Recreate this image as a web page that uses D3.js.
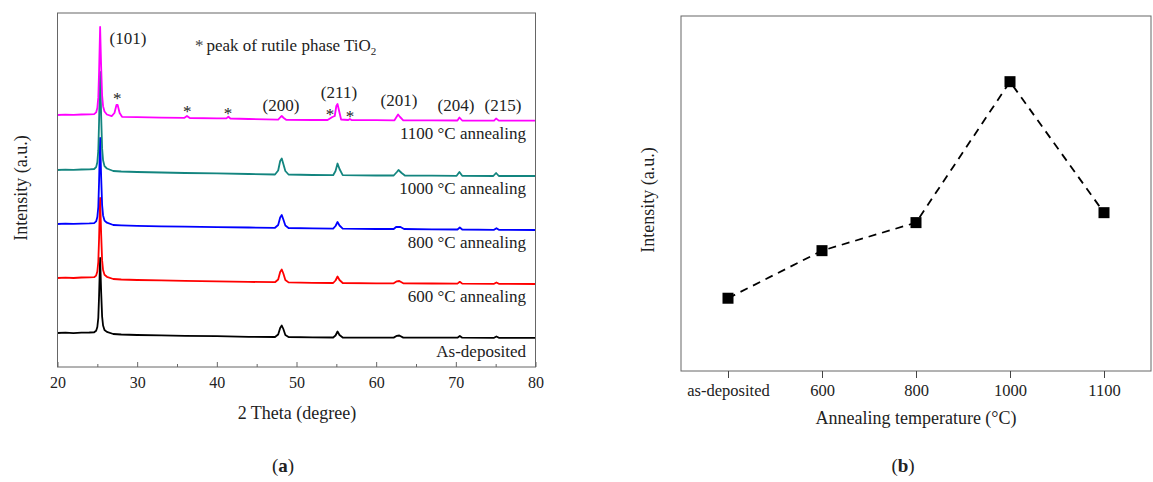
<!DOCTYPE html>
<html>
<head>
<meta charset="utf-8">
<script src="https://cdn.jsdelivr.net/npm/d3@7"></script>
<style>
  body { margin: 0; background: #fff; }
  text { font-family: "Liberation Serif", "Times New Roman", serif; fill: #222; }
</style>
</head>
<body>
<svg width="1153" height="482"></svg>
<script>
// ---- panel (a): XRD patterns, intensity read relative to each trace's left baseline
var sampleNames = ['As-deposited', '600 °C annealing', '800 °C annealing', '1000 °C annealing', '1100 °C annealing'];
var sampleColors = ['#000000', '#ff0000', '#0000ff', '#13857f', '#ff00ff'];
var sampleOffsets = [34, 89, 143, 197, 252];

var asDeposited = [[20,0],[21,0.3],[22,-0.2],[23,0.4],[24,0.5],[24.6,0.75],[24.85,2.3],[25.0,6],[25.12,15],[25.22,37.5],[25.35,75],[25.48,41],[25.6,16.5],[25.72,7.5],[25.9,3],[26.2,1.1],[27,-1],[28,-1.5],[30,-2],[33,-2.4],[36,-2.8],[40,-3.2],[44,-3.8],[47.3,-4],[47.7,-1.5],[47.95,5],[48.15,7.5],[48.35,4],[48.6,-2],[49,-4],[52,-4.3],[54.6,-4.5],[54.9,-2.5],[55.15,1.5],[55.4,-2],[55.8,-4.5],[60,-4.6],[62.2,-4.6],[62.6,-2.8],[62.9,-2.5],[63.4,-4.6],[67,-4.7],[70.2,-4.7],[70.5,-3],[70.8,-4.7],[74.8,-4.8],[75.1,-3.5],[75.4,-4.8],[80,-4.8]];
var anneal600 = [[20,0],[21,0.4],[22,0],[23,0.5],[24,0.6],[24.6,0.8],[24.85,2.4],[25.0,6.4],[25.12,16],[25.22,40],[25.35,80],[25.48,44],[25.6,17.6],[25.72,8],[25.9,3.2],[26.2,1.2],[27,-1],[28,-1.5],[30,-2],[33,-2.4],[36,-2.8],[40,-3.3],[44,-3.9],[47.3,-4.2],[47.7,-1.5],[47.95,6],[48.15,8.5],[48.35,4.5],[48.6,-2],[49,-4.4],[52,-4.8],[54.6,-5],[54.9,-2.5],[55.15,1.5],[55.4,-2],[55.8,-5],[60,-5.3],[62.2,-5.3],[62.6,-3.3],[62.9,-3],[63.4,-5.3],[67,-5.5],[70.2,-5.6],[70.5,-3.8],[70.8,-5.6],[74.8,-5.8],[75.1,-4.5],[75.4,-5.8],[80,-6]];
var anneal800 = [[20,0],[21,0.3],[22,0.2],[23,0.4],[24,0.6],[24.6,0.9],[24.85,2.6],[25.0,6.9],[25.12,17],[25.22,43],[25.35,86],[25.48,47],[25.6,19],[25.72,8.6],[25.9,3.4],[26.2,1.3],[27,-1],[28,-1.4],[30,-1.9],[33,-2.3],[36,-2.7],[40,-3.1],[44,-3.5],[47.3,-3.8],[47.7,-1],[47.95,6.5],[48.15,9],[48.35,4.5],[48.6,-1.5],[49,-4],[52,-4.4],[54.6,-4.6],[54.9,-2],[55.15,2],[55.4,-1.5],[55.8,-4.6],[60,-5],[62.2,-5],[62.5,-3],[63.0,-2.8],[63.5,-5],[67,-5.3],[70.2,-5.5],[70.5,-3.5],[70.8,-5.5],[74.8,-5.8],[75.1,-4.2],[75.4,-5.8],[80,-6]];
var anneal1000 = [[20,0],[21,0.4],[22,0.1],[23,0.5],[24,0.6],[24.6,1],[24.85,2.9],[25.0,7.8],[25.12,19.6],[25.22,49],[25.35,98],[25.48,54],[25.6,21.6],[25.72,9.8],[25.9,3.9],[26.2,1.5],[27,-1],[28,-1.5],[30,-2],[33,-2.5],[36,-3],[40,-3.4],[44,-4],[47.3,-4.5],[47.7,-0.5],[47.95,9],[48.15,11.5],[48.35,6],[48.6,-1],[49,-4.5],[52,-5],[54.6,-5.2],[54.9,-1],[55.15,6.5],[55.4,1],[55.8,-5.2],[60,-5.5],[62.2,-5.5],[62.6,-2],[62.8,0],[63.2,-3],[63.6,-5.5],[67,-5.7],[70.1,-5.8],[70.45,-2],[70.8,-5.8],[74.7,-6],[75.05,-3],[75.4,-6],[80,-6]];
var anneal1100 = [[20,0],[21,0.3],[22,0.2],[23,0.5],[24,0.6],[24.6,0.9],[24.85,2.6],[25.0,7],[25.12,17.6],[25.22,44],[25.35,88],[25.48,48],[25.6,19.4],[25.72,8.8],[25.9,3.5],[26.2,0.5],[26.8,-1.2],[27.15,2],[27.4,10],[27.55,10],[27.8,2],[28.1,-1.8],[30,-2.2],[33,-2.6],[35.9,-2.9],[36.25,-1],[36.6,-3],[40,-3.3],[41.2,-3.4],[41.45,-1.8],[41.7,-3.5],[44,-4],[47.7,-4.6],[48.0,-2],[48.15,-1],[48.4,-3],[48.7,-4.8],[52,-5],[53.9,-5],[54.2,-3.5],[54.5,-2],[54.8,-1],[55.0,9],[55.15,11],[55.35,4],[55.6,-4.5],[56.5,-5],[56.7,-4],[56.9,-5],[60,-5.2],[62.3,-5.3],[62.55,-2],[62.75,0.5],[63.0,-2],[63.4,-5.3],[67,-5.4],[70.2,-5.5],[70.45,-2.5],[70.8,-5.5],[74.8,-5.6],[75.05,-3.5],[75.4,-5.6],[80,-5.6]];
var patterns = [asDeposited, anneal600, anneal800, anneal1000, anneal1100];

var xTicksA = [20, 30, 40, 50, 60, 70, 80];
var xMinorA = [25, 35, 45, 55, 65, 75];

var planeLabels = ['(101)', '(200)', '(211)', '(201)', '(204)', '(215)'];
var planeLabelAngles = [28.85, 48.05, 55.33, 62.86, 70.02, 75.92];
var planeLabelHeights = [323, 256, 269, 261, 256, 256];
var rutileAngles = [27.5, 36.3, 41.4, 54.2, 56.7];
var rutileStarHeights = [273, 260, 258, 257, 255];

// ---- panel (b): (101) peak intensity vs annealing temperature
var tempLabels = ['as-deposited', '600', '800', '1000', '1100'];
var peakIntensity = [20.5, 33.9, 41.8, 81.5, 44.6];

var svg = d3.select('svg');

// panel (a)
var xa = d3.scaleLinear().domain([20, 80]).range([57.5, 535.5]);
var ya = d3.scaleLinear().domain([0, 354]).range([367, 13]);

var ga = svg.append('g');

var lineA = d3.line()
  .x(function (d) { return xa(d[0]); })
  .y(function (d) { return ya(d[1] + d.off); });

patterns.forEach(function (pts, i) {
  var data = pts.map(function (p) { var q = [p[0], p[1]]; q.off = sampleOffsets[i]; return q; });
  ga.append('path')
    .attr('d', lineA(data))
    .attr('fill', 'none')
    .attr('stroke', sampleColors[i])
    .attr('stroke-width', 1.8)
    .attr('stroke-linejoin', 'round');
});

ga.append('rect')
  .attr('x', 57.5).attr('y', 13)
  .attr('width', 478).attr('height', 354)
  .attr('fill', 'none').attr('stroke', '#666').attr('stroke-width', 1);

var axA = ga.append('g')
  .attr('transform', 'translate(0,367)')
  .call(d3.axisBottom(xa).tickValues(xTicksA).tickSizeInner(-5).tickSizeOuter(0).tickPadding(10));
axA.select('.domain').remove();
axA.selectAll('.tick line').attr('stroke', '#666');
axA.selectAll('text').style('font-size', '16px').attr('fill', '#222');

ga.append('g')
  .attr('transform', 'translate(0,367)')
  .call(d3.axisBottom(xa).tickValues(xMinorA).tickSizeInner(-3).tickSizeOuter(0).tickFormat(''))
  .call(function (g) { g.select('.domain').remove(); g.selectAll('line').attr('stroke', '#666'); });

ga.append('text')
  .attr('x', 297).attr('y', 419)
  .attr('text-anchor', 'middle').style('font-size', '18px')
  .text('2 Theta (degree)');

ga.append('text')
  .attr('transform', 'translate(27,188) rotate(-90)')
  .attr('text-anchor', 'middle').style('font-size', '18px')
  .text('Intensity (a.u.)');

sampleNames.forEach(function (name, i) {
  ga.append('text')
    .attr('x', 526)
    .attr('y', ya(sampleOffsets[i] - 24))
    .attr('text-anchor', 'end').style('font-size', '17px')
    .text(name);
});

planeLabels.forEach(function (lab, i) {
  ga.append('text')
    .attr('x', xa(planeLabelAngles[i]))
    .attr('y', ya(planeLabelHeights[i]))
    .attr('text-anchor', 'middle').style('font-size', '17px')
    .text(lab);
});

rutileAngles.forEach(function (a, i) {
  ga.append('text')
    .attr('x', xa(a))
    .attr('y', ya(rutileStarHeights[i]) + 10)
    .attr('text-anchor', 'middle').style('font-size', '17px')
    .attr('fill', '#444')
    .text('*');
});

var leg = ga.append('text')
  .attr('x', 195).attr('y', 51)
  .style('font-size', '17px');
leg.append('tspan').attr('fill', '#444').text('*');
leg.append('tspan').attr('dx', 3).text('peak of rutile phase TiO');
leg.append('tspan').attr('dy', 4).style('font-size', '11px').text('2');

ga.append('text')
  .attr('x', 283).attr('y', 472)
  .attr('text-anchor', 'middle').style('font-size', '19px')
  .call(function (t) {
    t.append('tspan').text('(');
    t.append('tspan').style('font-weight', 'bold').text('a');
    t.append('tspan').text(')');
  });

// panel (b)
var xb = d3.scalePoint().domain(tempLabels).range([681, 1151]).padding(0.5);
var yb = d3.scaleLinear().domain([0, 100]).range([371, 16]);

var gb = svg.append('g');

gb.append('rect')
  .attr('x', 681).attr('y', 16)
  .attr('width', 470).attr('height', 355)
  .attr('fill', 'none').attr('stroke', '#666').attr('stroke-width', 1);

var axB = gb.append('g')
  .attr('transform', 'translate(0,371)')
  .call(d3.axisBottom(xb).tickSizeInner(7).tickSizeOuter(0).tickPadding(6));
axB.select('.domain').remove();
axB.selectAll('.tick line').attr('stroke', '#444');
axB.selectAll('text').style('font-size', '16.5px').attr('fill', '#222');

var lineB = d3.line()
  .x(function (d, i) { return xb(tempLabels[i]); })
  .y(function (d) { return yb(d); });

gb.append('path')
  .attr('d', lineB(peakIntensity))
  .attr('fill', 'none')
  .attr('stroke', '#000')
  .attr('stroke-width', 1.8)
  .attr('stroke-dasharray', '8,6');

gb.selectAll('rect.pt')
  .data(peakIntensity)
  .enter()
  .append('rect')
  .attr('class', 'pt')
  .attr('x', function (d, i) { return xb(tempLabels[i]) - 5.5; })
  .attr('y', function (d) { return yb(d) - 5.5; })
  .attr('width', 11).attr('height', 11)
  .attr('fill', '#000');

gb.append('text')
  .attr('x', 916).attr('y', 424)
  .attr('text-anchor', 'middle').style('font-size', '18px')
  .text('Annealing temperature (°C)');

gb.append('text')
  .attr('transform', 'translate(654,200) rotate(-90)')
  .attr('text-anchor', 'middle').style('font-size', '18px')
  .text('Intensity (a.u.)');

gb.append('text')
  .attr('x', 903).attr('y', 472)
  .attr('text-anchor', 'middle').style('font-size', '19px')
  .call(function (t) {
    t.append('tspan').text('(');
    t.append('tspan').style('font-weight', 'bold').text('b');
    t.append('tspan').text(')');
  });
</script>
</body>
</html>
